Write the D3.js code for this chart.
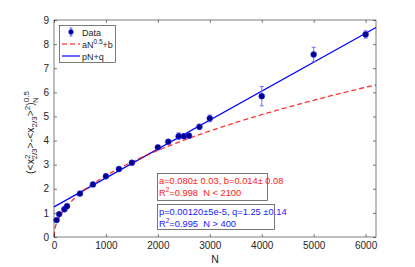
<!DOCTYPE html>
<html>
<head>
<meta charset="utf-8">
<script src="https://d3js.org/d3.v7.min.js"></script>
<style>
  body { margin: 0; background: #fff; }
  text { font-family: "Liberation Sans", Arial, sans-serif; white-space: pre; }
</style>
</head>
<body>
<div id="chart"></div>
<script>
// data
var nVals   = [50, 100, 200, 250, 500, 750, 1000, 1250, 1500, 2000, 2200, 2400, 2500, 2600, 2800, 3000, 4000, 5000, 6000];
var sigma   = [0.70, 0.95, 1.15, 1.28, 1.80, 2.18, 2.52, 2.82, 3.08, 3.72, 3.95, 4.18, 4.18, 4.20, 4.57, 4.92, 5.84, 7.57, 8.40];
var errs    = [0.04, 0.04, 0.04, 0.04, 0.05, 0.05, 0.05, 0.05, 0.06, 0.06, 0.07, 0.14, 0.10, 0.08, 0.10, 0.14, 0.40, 0.30, 0.15];
var xTicks  = [0, 1000, 2000, 3000, 4000, 5000, 6000];
var yTicks  = [0, 1, 2, 3, 4, 5, 6, 7, 8, 9];
var fitA = 0.080, fitB = 0.014;     // aN^0.5+b
var fitP = 0.00120, fitQ = 1.25;    // pN+q

var W = 415, H = 267;
var m = {left: 54, right: 39, top: 20, bottom: 30};

var svg = d3.select("#chart").append("svg")
    .attr("width", W).attr("height", H);

var x = d3.scaleLinear().domain([0, 6200]).range([m.left, W - m.right]);
var y = d3.scaleLinear().domain([0, 9]).range([H - m.bottom, m.top]);

var axisCol = "#262626";

// fits
var curveN = d3.range(0, 6201, 20);
var redLine = d3.line()
    .x(function (d) { return x(d); })
    .y(function (d) { return y(fitA * Math.sqrt(d) + fitB); });
var blueLine = d3.line()
    .x(function (d) { return x(d); })
    .y(function (d) { return y(fitP * d + fitQ); });

var plot = svg.append("g");
plot.append("path").datum([0, 6200])
    .attr("d", blueLine)
    .attr("fill", "none").attr("stroke", "#0000ff").attr("stroke-width", 1.2);

// error bars
var pts = nVals.map(function (n, i) { return {n: n, v: sigma[i], e: errs[i]}; });
var eb = plot.append("g").attr("stroke", "#6f6fff").attr("stroke-width", 1);
pts.forEach(function (d) {
  eb.append("line").attr("x1", x(d.n)).attr("x2", x(d.n))
    .attr("y1", y(d.v - d.e)).attr("y2", y(d.v + d.e));
  eb.append("line").attr("x1", x(d.n) - 2).attr("x2", x(d.n) + 2)
    .attr("y1", y(d.v - d.e)).attr("y2", y(d.v - d.e));
  eb.append("line").attr("x1", x(d.n) - 2).attr("x2", x(d.n) + 2)
    .attr("y1", y(d.v + d.e)).attr("y2", y(d.v + d.e));
});

plot.append("path").datum(curveN)
    .attr("d", redLine)
    .attr("fill", "none").attr("stroke", "#ff0000").attr("stroke-width", 1.3)
    .attr("stroke-dasharray", "5,3").attr("opacity", 0.8);

plot.selectAll(".pt").data(pts).enter().append("circle")
    .attr("cx", function (d) { return x(d.n); })
    .attr("cy", function (d) { return y(d.v); })
    .attr("r", 2.9)
    .attr("fill", "#00008b").attr("stroke", "#2020ff").attr("stroke-width", 0.6);

// box + axes
svg.append("rect")
    .attr("x", m.left).attr("y", m.top)
    .attr("width", W - m.left - m.right).attr("height", H - m.top - m.bottom)
    .attr("fill", "none").attr("stroke", axisCol).attr("stroke-width", 0.6);

var gx = svg.append("g").attr("transform", "translate(0," + (H - m.bottom) + ")")
    .call(d3.axisBottom(x).tickValues(xTicks).tickSize(-3).tickPadding(5).tickFormat(d3.format("d")));
var gxt = svg.append("g").attr("transform", "translate(0," + m.top + ")")
    .call(d3.axisTop(x).tickValues(xTicks).tickSize(-3).tickFormat(""));
var gy = svg.append("g").attr("transform", "translate(" + m.left + ",0)")
    .call(d3.axisLeft(y).tickValues(yTicks).tickSize(-3).tickPadding(5));
var gyr = svg.append("g").attr("transform", "translate(" + (W - m.right) + ",0)")
    .call(d3.axisRight(y).tickValues(yTicks).tickSize(-3).tickFormat(""));
[gx, gxt, gy, gyr].forEach(function (g) {
  g.select(".domain").remove();
  g.selectAll("line").attr("stroke", axisCol).attr("stroke-width", 0.6);
  g.selectAll("text").attr("fill", axisCol).style("font-size", "10px")
    .style("font-family", "'Liberation Sans', Arial, sans-serif");
});

// axis labels
svg.append("text").attr("x", (m.left + W - m.right) / 2).attr("y", H - 4)
    .attr("text-anchor", "middle").attr("fill", axisCol).style("font-size", "10.5px").text("N");

var yl = svg.append("text")
    .attr("transform", "translate(34," + ((m.top + H - m.bottom) / 2 + 4) + ")rotate(-90)")
    .attr("text-anchor", "middle").attr("fill", axisCol).style("font-size", "10.5px");
yl.append("tspan").text("(<x");
yl.append("tspan").attr("dy", -4).style("font-size", "8px").text("2");
yl.append("tspan").attr("dx", -5).attr("dy", 7).style("font-size", "8px").text("2/3");
yl.append("tspan").attr("dy", -3).text(">-<x");
yl.append("tspan").attr("dy", 3).style("font-size", "8px").text("2/3");
yl.append("tspan").attr("dy", -3).text(">");
yl.append("tspan").attr("dy", -4).style("font-size", "8px").text("2");
yl.append("tspan").attr("dy", 4).text(")");
yl.append("tspan").attr("dy", -5).style("font-size", "8px").text("0.5");
yl.append("tspan").attr("dx", -12).attr("dy", 9).style("font-size", "8px").text("N");

// legend
var lg = svg.append("g");
lg.append("rect").attr("x", 59.5).attr("y", 25.5).attr("width", 56).attr("height", 37)
    .attr("fill", "#fff").attr("stroke", axisCol).attr("stroke-width", 0.6);
lg.append("line").attr("x1", 71).attr("x2", 71).attr("y1", 28).attr("y2", 36)
    .attr("stroke", "#6f6fff");
lg.append("line").attr("x1", 69.5).attr("x2", 72.5).attr("y1", 28).attr("y2", 28).attr("stroke", "#6f6fff");
lg.append("line").attr("x1", 69.5).attr("x2", 72.5).attr("y1", 36).attr("y2", 36).attr("stroke", "#6f6fff");
lg.append("circle").attr("cx", 71).attr("cy", 32).attr("r", 2.4)
    .attr("fill", "#00008b").attr("stroke", "#2020ff").attr("stroke-width", 0.6);
lg.append("line").attr("x1", 62).attr("x2", 80).attr("y1", 44).attr("y2", 44)
    .attr("stroke", "#ff0000").attr("stroke-width", 1.2).attr("stroke-dasharray", "5,3");
lg.append("line").attr("x1", 62).attr("x2", 80).attr("y1", 56).attr("y2", 56)
    .attr("stroke", "#0000ff").attr("stroke-width", 1.2);
lg.append("text").attr("x", 82).attr("y", 35.5).style("font-size", "9px").attr("fill", axisCol).text("Data");
var l2 = lg.append("text").attr("x", 82).attr("y", 47.5).style("font-size", "9px").attr("fill", axisCol);
l2.append("tspan").text("aN");
l2.append("tspan").attr("dy", -4).style("font-size", "6.5px").text("0.5");
l2.append("tspan").attr("dy", 4).text("+b");
lg.append("text").attr("x", 82).attr("y", 59.5).style("font-size", "9px").attr("fill", axisCol).text("pN+q");

// annotation boxes
function annot(x0, y0, w, h, col, line1, r2, cond) {
  var g = svg.append("g");
  g.append("rect").attr("x", x0 + 0.5).attr("y", y0 + 0.5).attr("width", w).attr("height", h)
      .attr("fill", "#fff").attr("stroke", "#555").attr("stroke-width", 0.8);
  g.append("text").attr("x", x0 + 2).attr("y", y0 + 11).style("font-size", "9.3px")
      .attr("fill", col).text(line1);
  var t = g.append("text").attr("x", x0 + 2).attr("y", y0 + 22.5).style("font-size", "9.3px").attr("fill", col);
  t.append("tspan").text("R");
  t.append("tspan").attr("dy", -4).style("font-size", "6.5px").text("2");
  t.append("tspan").attr("dy", 4).text("=" + r2 + "  " + cond);
}
annot(157, 173, 110, 27, "#ff2020", "a=0.080\u00b1 0.03, b=0.014\u00b1 0.08", "0.998", "N < 2100");
annot(157, 204, 117, 25, "#2020ff", "p=0.00120\u00b15e-5, q=1.25 \u00b10.14", "0.995", "N > 400");
</script>
</body>
</html>
